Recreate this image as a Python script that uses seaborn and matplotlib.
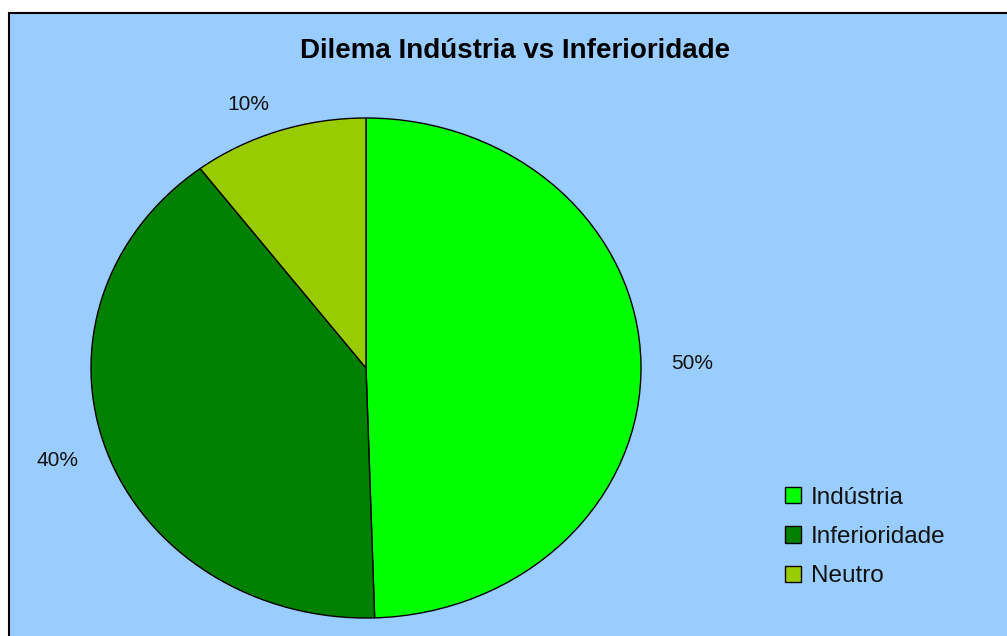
import matplotlib
matplotlib.use("Agg")
import matplotlib.pyplot as plt
from matplotlib.patches import Rectangle
import seaborn as sns

categories = ["Indústria", "Inferioridade", "Neutro"]
values = [49.5, 40.2, 10.3]
colors = ["#00FF00", "#008000", "#99CC00"]
title = "Dilema Indústria vs Inferioridade"

sns.set_theme(style="white")
plt.rcParams["font.family"] = ["Liberation Sans", "DejaVu Sans"]

W, H = 1007, 636
fig = plt.figure(figsize=(W / 100, H / 100), dpi=100)
fig.patch.set_facecolor("white")

# chart area background with border
bg = Rectangle((9 / W, -0.05), 1.1, 1 - 13 / H + 0.05, transform=fig.transFigure,
               facecolor="#99CCFF", edgecolor="black", linewidth=1.5, zorder=-10)
fig.patches.append(bg)

ax = fig.add_axes([91 / W, 18 / H, 550 / W, 500 / H])
ax.set_zorder(1)
ax.set_facecolor("none")
total = sum(values)
labels = [f"{int(v / total * 100 + 0.5)}%" for v in values]
wedges, texts = ax.pie(values, colors=colors, startangle=90, counterclock=False,
                       labels=labels, labeldistance=1.11,
                       wedgeprops=dict(edgecolor="black", linewidth=1.0),
                       textprops=dict(fontsize=15, color="#111111"))
ax.set_aspect("auto")
ax.set_xlim(-1, 1)
ax.set_ylim(-1, 1)
ax.axis("off")

fig.text(515 / W, 1 - 51 / H, title, ha="center", va="center",
         fontsize=20, fontweight="bold", color="black", zorder=2)

leg = fig.legend(wedges, categories, loc="center left",
                 bbox_to_anchor=(785 / W, 1 - 537 / H), frameon=False,
                 fontsize=17.5, handlelength=0.65, handleheight=0.65,
                 handletextpad=0.4, labelspacing=0.72,
                 borderpad=0, borderaxespad=0)
leg.set_zorder(2)
for t in leg.get_texts():
    t.set_color("#111111")

fig.savefig("out.png", dpi=100)
